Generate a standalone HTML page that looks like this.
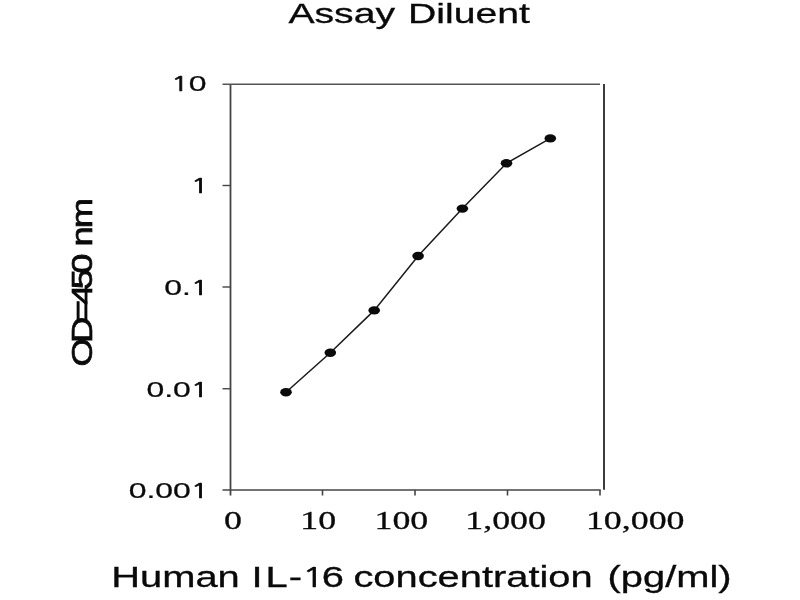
<!DOCTYPE html>
<html><head><meta charset="utf-8"><title>Assay Diluent</title>
<style>
html,body{margin:0;padding:0;background:#fff;}
body{width:800px;height:600px;overflow:hidden;}
svg{display:block;}
.s{font-family:"Liberation Sans",Arial,Helvetica,sans-serif;fill:#0a0a0a;stroke:#0a0a0a;stroke-width:0.3px;vector-effect:non-scaling-stroke;}
.t{font-family:"Liberation Serif","Times New Roman",serif;fill:#0a0a0a;stroke:#0a0a0a;stroke-width:0.35px;vector-effect:non-scaling-stroke;}
.n{font-family:"NanumGothic","Liberation Sans",sans-serif;stroke-width:0.6px;font-size:92%;}
</style></head><body>
<svg width="800" height="600" viewBox="0 0 800 600">
<rect width="800" height="600" fill="#fff"/>

<g stroke="#444" fill="none">
<line x1="230.5" y1="84" x2="230.5" y2="495.5" stroke-width="1.8"/>
<line x1="604" y1="84" x2="604" y2="489.7" stroke-width="2" stroke="#3c3c3c"/>
<line x1="222.5" y1="84.2" x2="600" y2="84.2" stroke-width="1.5" stroke="#555"/>
<line x1="222.5" y1="490" x2="600.7" y2="490" stroke-width="1.5"/>
<line x1="222.5" y1="185.5" x2="230.5" y2="185.5" stroke-width="1.4"/>
<line x1="222.5" y1="287" x2="230.5" y2="287" stroke-width="1.4"/>
<line x1="222.5" y1="388.75" x2="230.5" y2="388.75" stroke-width="1.4"/>
<line x1="322.5" y1="490" x2="322.5" y2="495.5" stroke-width="1.6"/>
<line x1="415" y1="490" x2="415" y2="495.5" stroke-width="1.6"/>
<line x1="507.5" y1="490" x2="507.5" y2="495.5" stroke-width="1.6"/>
<line x1="600" y1="490" x2="600" y2="495.5" stroke-width="1.6"/>
</g>
<polyline fill="none" stroke="#1a1a1a" stroke-width="1.5" points="286,392.3 330.3,352.8 374.2,310.4 418.1,256 462.4,208.6 506.5,163.3 550.3,138.4"/>
<ellipse cx="286" cy="392.3" rx="5.8" ry="4.2" fill="#0a0a0a"/>
<ellipse cx="330.3" cy="352.8" rx="5.8" ry="4.2" fill="#0a0a0a"/>
<ellipse cx="374.2" cy="310.4" rx="5.8" ry="4.2" fill="#0a0a0a"/>
<ellipse cx="418.1" cy="256" rx="5.8" ry="4.2" fill="#0a0a0a"/>
<ellipse cx="462.4" cy="208.6" rx="5.8" ry="4.2" fill="#0a0a0a"/>
<ellipse cx="506.5" cy="163.3" rx="5.8" ry="4.2" fill="#0a0a0a"/>
<ellipse cx="550.3" cy="138.4" rx="5.8" ry="4.2" fill="#0a0a0a"/>
<text class="s" font-size="27.4" transform="translate(0,23.4) scale(1.43,1)"><tspan x="201.68">Assay </tspan><tspan x="285.31">Diluent</tspan></text>
<text class="s" font-size="22.0" text-anchor="end" transform="translate(206.6,91.3) scale(1.45,1)"><tspan class="n">1</tspan>0</text>
<text class="s" font-size="22.0" text-anchor="end" transform="translate(208.6,192.5) scale(1.45,1)"><tspan class="n">1</tspan></text>
<text class="s" font-size="22.0" text-anchor="end" transform="translate(208.6,294.7) scale(1.45,1)">0.<tspan class="n">1</tspan></text>
<text class="s" font-size="22.0" text-anchor="end" transform="translate(208.6,396.5) scale(1.45,1)">0.0<tspan class="n">1</tspan></text>
<text class="s" font-size="22.0" text-anchor="end" transform="translate(208.6,498.2) scale(1.45,1)">0.00<tspan class="n">1</tspan></text>
<text class="t" font-size="24.4" text-anchor="middle" transform="translate(233,528.75) scale(1.47,1)">0</text>
<text class="t" font-size="24.4" text-anchor="middle" transform="translate(318.2,528.75) scale(1.47,1)">10</text>
<text class="t" font-size="24.4" text-anchor="middle" transform="translate(401.4,528.75) scale(1.47,1)">100</text>
<text class="t" font-size="24.4" text-anchor="middle" transform="translate(505.6,528.75) scale(1.47,1)">1,000</text>
<text class="t" font-size="24.4" text-anchor="middle" transform="translate(635.2,528.75) scale(1.47,1)">10,000</text>
<text class="s" font-size="28.8" transform="translate(0,587.4) scale(1.385,1)"><tspan x="80.36">Human </tspan><tspan x="181.52">I<tspan dx="2.2">L</tspan><tspan dx="0.7">-</tspan><tspan class="n">1</tspan><tspan dx="-1.8">6</tspan> </tspan><tspan x="255.16">concentration </tspan><tspan x="438.70">(pg/ml)</tspan></text>
<text class="s" style="stroke-width:0.8px" font-size="29.1" transform="translate(92.4,364.7) rotate(-90) scale(1.25,1)" x="-1.42 17.44 34.72 48.00 60.40 72.80 85.20 94.64 109.20">OD=450 nm</text>
</svg></body></html>
